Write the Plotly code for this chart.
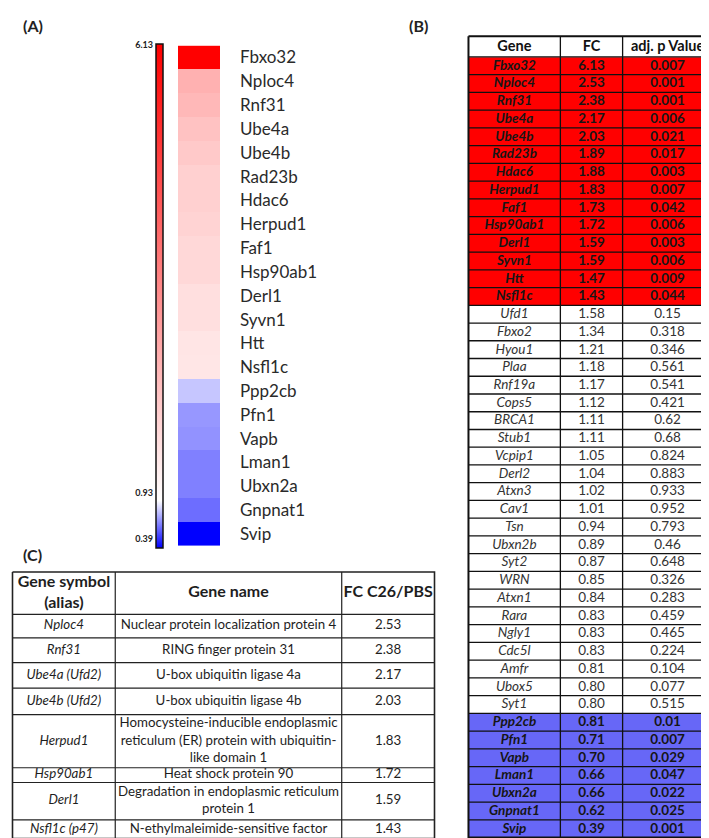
import numpy as np
import plotly.graph_objects as go

W, H = 709, 838
FONT = "Lato"

# ---------------- data: panel B (full table) ----------------
genes_b = ["Fbxo32", "Nploc4", "Rnf31", "Ube4a", "Ube4b", "Rad23b", "Hdac6", "Herpud1", "Faf1",
           "Hsp90ab1", "Derl1", "Syvn1", "Htt", "Nsfl1c",
           "Ufd1", "Fbxo2", "Hyou1", "Plaa", "Rnf19a", "Cops5", "BRCA1", "Stub1", "Vcpip1", "Derl2",
           "Atxn3", "Cav1", "Tsn", "Ubxn2b", "Syt2", "WRN", "Atxn1", "Rara", "Ngly1", "Cdc5l", "Amfr",
           "Ubox5", "Syt1",
           "Ppp2cb", "Pfn1", "Vapb", "Lman1", "Ubxn2a", "Gnpnat1", "Svip"]
fc_b = [6.13, 2.53, 2.38, 2.17, 2.03, 1.89, 1.88, 1.83, 1.73, 1.72, 1.59, 1.59, 1.47, 1.43,
        1.58, 1.34, 1.21, 1.18, 1.17, 1.12, 1.11, 1.11, 1.05, 1.04, 1.02, 1.01, 0.94, 0.89, 0.87,
        0.85, 0.84, 0.83, 0.83, 0.83, 0.81, 0.80, 0.80,
        0.81, 0.71, 0.70, 0.66, 0.66, 0.62, 0.39]
p_b = [0.007, 0.001, 0.001, 0.006, 0.021, 0.017, 0.003, 0.007, 0.042, 0.006, 0.003, 0.006, 0.009, 0.044,
       0.15, 0.318, 0.346, 0.561, 0.541, 0.421, 0.62, 0.68, 0.824, 0.883, 0.933, 0.952, 0.793, 0.46,
       0.648, 0.326, 0.283, 0.459, 0.465, 0.224, 0.104, 0.077, 0.515,
       0.01, 0.007, 0.029, 0.047, 0.022, 0.025, 0.001]
header_b = ["Gene", "FC", "adj. p Value"]

# ---------------- data: panel C ----------------
symbol_c = ["Nploc4", "Rnf31", "Ube4a (Ufd2)", "Ube4b (Ufd2)", "Herpud1", "Hsp90ab1", "Derl1", "Nsfl1c (p47)"]
name_c = ["Nuclear protein localization protein 4",
          "RING finger protein 31",
          "U-box ubiquitin ligase 4a",
          "U-box ubiquitin ligase 4b",
          "Homocysteine-inducible endoplasmic<br>reticulum (ER) protein with ubiquitin-<br>like domain 1",
          "Heat shock protein 90",
          "Degradation in endoplasmic reticulum<br>protein 1",
          "N-ethylmaleimide-sensitive factor"]
fc_c = [2.53, 2.38, 2.17, 2.03, 1.83, 1.72, 1.59, 1.43]
header_c = ["Gene symbol<br>(alias)", "Gene name", "FC C26/PBS"]

# colour-scale ticks of panel A
cbar_ticks = [6.13, 0.93, 0.39]
white_point = 0.93

# ---------------- derived ----------------
sig = [p < 0.05 for p in p_b]
cat = [(1 if f > 1 else 2) if s else 0 for s, f in zip(sig, fc_b)]
genes_a = [g for g, s in zip(genes_b, sig) if s]
fc_a = [f for f, s in zip(fc_b, sig) if s]
zmin, zmax = min(fc_a), max(fc_a)
wfrac = (white_point - zmin) / (zmax - zmin)

RED = "#ff0000"
BLUE = "#6767f7"


def edges(sizes):
    return np.concatenate([[0.0], np.cumsum(sizes)])


def centers(e):
    return (e[:-1] + e[1:]) / 2


def grid(xe, ye):
    xs, ys = [], []
    for x in xe[1:-1]:
        xs += [x, x, None]
        ys += [ye[0], ye[-1], None]
    for y in ye[1:-1]:
        xs += [xe[0], xe[-1], None]
        ys += [y, y, None]
    return xs, ys


def box(xe, ye):
    return ([xe[0], xe[-1], xe[-1], xe[0], xe[0]],
            [ye[0], ye[0], ye[-1], ye[-1], ye[0]])


fig = go.Figure()

# ---------------- panel A: heatmap ----------------
fig.add_trace(go.Heatmap(
    z=[[v] for v in fc_a], y=genes_a, x=["FC"],
    zmin=zmin, zmax=zmax,
    colorscale=[[0, "#0000ff"], [wfrac, "#ffffff"], [1, "#ff0000"]],
    xaxis="x", yaxis="y", hoverinfo="skip",
    colorbar=dict(x=148 / W, xanchor="left", xpad=0, y=1 - 30 / H, yanchor="top", ypad=0,
                  len=511 / H, lenmode="fraction", thickness=7, outlinewidth=1.5,
                  outlinecolor="#111111", showticklabels=False, ticks=""),
))
# invisible carrier for colour-bar tick labels
fig.add_trace(go.Scatter(x=[0] * len(cbar_ticks), y=cbar_ticks, mode="markers",
                         marker=dict(opacity=0), xaxis="x4", yaxis="y4",
                         hoverinfo="skip", showlegend=False))

# ---------------- panel B: table ----------------
colw_b = [93, 63, 91]
rowh_b = [21] + [18] * len(genes_b)
xe_b, ye_b = edges(colw_b), edges(rowh_b)
xc_b, yc_b = centers(xe_b), centers(ye_b)
z_b = [[0, 0, 0]] + [[c, c, c] for c in cat]
fig.add_trace(go.Heatmap(
    z=z_b, x=xe_b, y=ye_b, zmin=0, zmax=2,
    colorscale=[[0, "#ffffff"], [0.5, RED], [1, BLUE]], showscale=False,
    xaxis="x2", yaxis="y2", hoverinfo="skip"))
gx, gy = grid(xe_b, ye_b)
fig.add_trace(go.Scatter(x=gx, y=gy, mode="lines", line=dict(color="#111111", width=1.3),
                         xaxis="x2", yaxis="y2", hoverinfo="skip", showlegend=False))
bx, by = box(xe_b, ye_b)
fig.add_trace(go.Scatter(x=bx, y=by, mode="lines", line=dict(color="#111111", width=2),
                         xaxis="x2", yaxis="y2", hoverinfo="skip", showlegend=False))

tx, ty, tt, tcol, tsize = [], [], [], [], []
for j, h in enumerate(header_b):
    tx.append(xc_b[j]); ty.append(yc_b[0] + 0.5); tt.append(f"<b>{h}</b>")
    tcol.append("#111111"); tsize.append(14.5)
for i, (g, f, p, c) in enumerate(zip(genes_b, fc_b, p_b, cat)):
    vals = [g, f"{f:.2f}", str(p)]
    for j, v in enumerate(vals):
        if c:
            s = f"<b><i>{v}</i></b>" if j == 0 else f"<b>{v}</b>"
            col = "#161616"
        else:
            s = f"<i>{v}</i>" if j == 0 else v
            col = "#333333"
        tx.append(xc_b[j]); ty.append(yc_b[i + 1] + 0.5); tt.append(s)
        tcol.append(col); tsize.append(13.5)
fig.add_trace(go.Scatter(x=tx, y=ty, text=tt, mode="text", textposition="middle center",
                         textfont=dict(family=FONT, size=tsize, color=tcol), cliponaxis=False,
                         xaxis="x2", yaxis="y2", hoverinfo="skip", showlegend=False))

# ---------------- panel C: table ----------------
colw_c = [103, 227, 93]
rowh_c = [43, 24, 25, 26, 27, 54, 15, 38, 19]
xe_c, ye_c = edges(colw_c), edges(rowh_c)
xc_c, yc_c = centers(xe_c), centers(ye_c)
gx, gy = grid(xe_c, ye_c)
fig.add_trace(go.Scatter(x=gx, y=gy, mode="lines", line=dict(color="#222222", width=1.2),
                         xaxis="x3", yaxis="y3", hoverinfo="skip", showlegend=False))
bx, by = box(xe_c, ye_c)
fig.add_trace(go.Scatter(x=bx, y=by, mode="lines", line=dict(color="#222222", width=1.6),
                         xaxis="x3", yaxis="y3", hoverinfo="skip", showlegend=False))
tx, ty, tt, tsize = [], [], [], []
for j, h in enumerate(header_c):
    tx.append(xc_c[j]); ty.append(yc_c[0]); tt.append(f"<b>{h}</b>"); tsize.append(16)
for i, (s, n, f) in enumerate(zip(symbol_c, name_c, fc_c)):
    for j, v in enumerate([f"<i>{s}</i>", n, f"{f:.2f}"]):
        tx.append(xc_c[j]); ty.append(yc_c[i + 1]); tt.append(v); tsize.append(13.3)
fig.add_trace(go.Scatter(x=tx, y=ty, text=tt, mode="text", textposition="middle center",
                         textfont=dict(family=FONT, size=tsize, color="#1e1e1e"), cliponaxis=False,
                         xaxis="x3", yaxis="y3", hoverinfo="skip", showlegend=False))

hidden = dict(visible=False, showgrid=False, zeroline=False, fixedrange=True)

fig.update_layout(
    width=W, height=H, margin=dict(l=0, r=0, t=0, b=0),
    paper_bgcolor="white", plot_bgcolor="white", showlegend=False,
    font=dict(family=FONT, color="#222222"),
    xaxis=dict(domain=[170 / W, 212 / W], showticklabels=False, showgrid=False, zeroline=False,
               ticks="", showline=False, fixedrange=True),
    yaxis=dict(domain=[1 - 539 / H, 1 - 32 / H], autorange="reversed", side="right",
               showgrid=False, zeroline=False, ticks="", showline=False, ticklabelstandoff=19,
               tickfont=dict(family=FONT, size=17, color="#2a2a2a"), fixedrange=True),
    xaxis2=dict(domain=[459 / W, 706 / W], range=[-1.5, xe_b[-1] + 1.5], anchor="y2", **hidden),
    yaxis2=dict(domain=[1 - 836 / H, 1 - 21 / H], range=[ye_b[-1] + 1.5, -1.5], anchor="x2", **hidden),
    xaxis3=dict(domain=[3 / W, 428 / W], range=[-1.5, xe_c[-1] + 1.5], anchor="y3", **hidden),
    yaxis3=dict(domain=[1 - 837 / H, 1 - 564 / H], range=[ye_c[-1] + 1.5, -1.5], anchor="x3", **hidden),
    xaxis4=dict(domain=[148 / W, 156 / W], range=[-1, 1], anchor="y4", **hidden),
    yaxis4=dict(domain=[1 - 532 / H, 1 - 31 / H], range=[zmin, zmax], anchor="x4", side="left",
                tickvals=cbar_ticks, ticktext=[f"{t:.2f}" for t in cbar_ticks],
                showgrid=False, zeroline=False, showline=False, ticks="", ticklabelstandoff=2,
                tickfont=dict(family=FONT, size=9, color="#222222", weight="bold"), fixedrange=True),
    annotations=[
        dict(text="<b>(A)</b>", x=13 / W, y=1 - 12 / H, xref="paper", yref="paper",
             xanchor="left", yanchor="middle", showarrow=False, font=dict(size=16, color="#222222")),
        dict(text="<b>(B)</b>", x=399 / W, y=1 - 12 / H, xref="paper", yref="paper",
             xanchor="left", yanchor="middle", showarrow=False, font=dict(size=16, color="#222222")),
        dict(text="<b>(C)</b>", x=13 / W, y=1 - 548 / H, xref="paper", yref="paper",
             xanchor="left", yanchor="middle", showarrow=False, font=dict(size=16, color="#222222")),
    ],
)

fig.write_html("out.html")
